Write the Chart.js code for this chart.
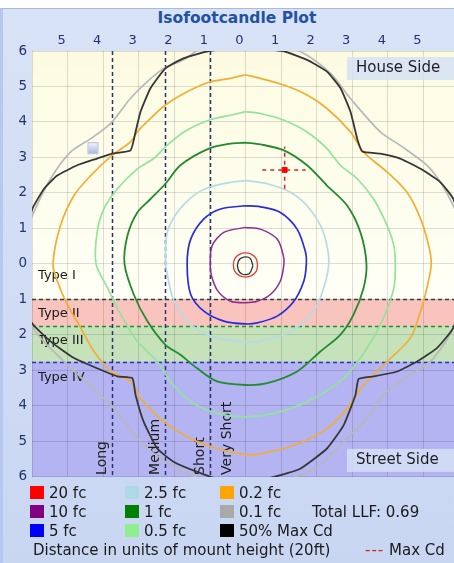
<!DOCTYPE html>
<html>
<head>
<meta charset="utf-8">
<script src="https://cdn.jsdelivr.net/npm/chart.js@4"></script>
<style>
  body { margin: 0; background: #fff; overflow: hidden; width: 454px; height: 563px; position: relative; font-family: "DejaVu Sans", sans-serif; }
  #frame { position: absolute; left: 0; top: 8px; width: 470px; height: 560px; box-sizing: border-box;
           background: linear-gradient(#d8e3f7, #c9d6f2); border-top: 1px solid #a9badb; border-left: 3px solid #b7c8ee; }
  #title { position: absolute; left: 0; width: 474px; top: 9px; text-align: center; font-weight: bold; font-size: 15.5px; color: #2352a3; }
  #chart { position: absolute; left: 0; top: 0; }
  .lg { position: absolute; font-size: 15px; color: #1a1a1a; white-space: nowrap; line-height: 18px; }
  .sw { position: absolute; width: 14px; height: 13px; }
</style>
</head>
<body>
<div id="frame"></div>
<div id="title">Isofootcandle Plot</div>
<canvas id="chart" width="470" height="490"></canvas>
<div id="legend"></div>
<script>
// grid steps in mount heights
const gridSteps = [-6, -5, -4, -3, -2, -1, 0, 1, 2, 3, 4, 5, 6];

// iso lines, [x, y] in mount heights
const fc20 = [[0.34,-0.03],[0.30,0.15],[0.17,0.27],[0,0.31],[-0.17,0.27],[-0.30,0.15],[-0.34,-0.03],[-0.30,-0.21],[-0.17,-0.33],[0,-0.37],[0.17,-0.33],[0.30,-0.21],[0.34,-0.03]];
const fc10 = [[0,1.03],[-0.61,0.89],[-0.94,0.51],[-0.99,0],[-0.96,-0.32],[-0.78,-0.76],[-0.42,-1.05],[0,-1.09],[0.33,-1.05],[0.70,-0.86],[0.98,-0.48],[1.08,0],[1.06,0.25],[0.89,0.70],[0.42,0.98],[0,1.03]];
const fc5 = [[0,1.64],[-0.70,1.55],[-1.17,1.27],[-1.54,0.70],[-1.64,0],[-1.54,-0.86],[-1.17,-1.33],[-0.61,-1.61],[0,-1.69],[0.33,-1.66],[0.89,-1.47],[1.36,-1.05],[1.64,-0.48],[1.71,0],[1.69,0.32],[1.45,0.98],[0.98,1.45],[0.42,1.61],[0,1.64]];
const fc2_5 = [[0,2.35],[-0.42,2.30],[-1.03,2.16],[-1.45,1.93],[-1.92,1.45],[-2.20,0.89],[-2.25,0.13],[-2.20,-0.29],[-2.01,-1.05],[-1.54,-1.71],[-0.80,-2.09],[0,-2.20],[0.42,-2.18],[1.26,-1.90],[1.92,-1.33],[2.20,-0.67],[2.34,0],[2.29,0.51],[2.11,1.08],[1.73,1.64],[1.26,2.02],[0.61,2.26],[0,2.35]];
const fc1 = [[0,3.42],[-0.42,3.39],[-1.03,3.25],[-1.83,2.78],[-2.25,2.26],[-2.67,1.83],[-3.04,1.45],[-3.32,0.79],[-3.40,0],[-3.14,-0.86],[-2.76,-1.61],[-2.25,-2.28],[-1.83,-2.56],[-1.36,-2.94],[-0.80,-3.31],[0,-3.41],[0.61,-3.36],[1.45,-3.03],[2.11,-2.46],[2.67,-1.99],[3.04,-1.42],[3.32,-0.67],[3.40,0],[3.23,0.89],[2.86,1.64],[2.29,2.21],[1.73,2.78],[1.08,3.20],[0.42,3.37],[0,3.42]];
const fc0_5 = [[0,4.29],[-0.42,4.19],[-1.03,4.05],[-1.73,3.72],[-2.25,3.30],[-2.58,2.97],[-3.04,2.68],[-3.60,2.12],[-3.98,1.55],[-4.17,0.89],[-4.20,0],[-3.88,-0.67],[-3.51,-1.42],[-3.04,-2.18],[-2.48,-2.75],[-2.11,-3.31],[-1.54,-3.88],[-0.80,-4.21],[0,-4.31],[0.98,-4.16],[1.92,-3.79],[2.76,-3.22],[3.42,-2.37],[3.88,-1.52],[4.17,-0.67],[4.21,0],[4.17,0.51],[3.98,1.08],[3.60,1.83],[3.14,2.40],[2.67,2.78],[2.29,3.25],[1.73,3.72],[1.08,4.05],[0.42,4.24],[0,4.29]];
const fc0_2 = [[0,5.33],[-0.42,5.23],[-1.03,5.12],[-1.64,4.85],[-2.25,4.48],[-2.67,4.10],[-3.04,3.72],[-3.23,3.44],[-3.75,3.06],[-4.35,2.49],[-4.82,1.93],[-5.20,1.08],[-5.41,0],[-5.29,-0.48],[-5.01,-1.14],[-4.63,-1.80],[-4.26,-2.46],[-3.79,-3.03],[-3.23,-3.31],[-2.95,-3.79],[-2.29,-4.45],[-1.54,-4.92],[-0.80,-5.20],[0,-5.37],[0.42,-5.35],[1.36,-5.11],[2.29,-4.64],[2.86,-4.07],[3.32,-3.41],[3.98,-2.75],[4.63,-2.09],[4.92,-1.33],[5.10,-0.67],[5.22,0],[5.15,0.51],[4.92,1.27],[4.54,2.02],[3.98,2.59],[3.32,3.15],[2.95,3.72],[2.29,4.38],[1.73,4.76],[1.08,5.04],[0.42,5.23],[0,5.33]];
const fc0_1 = [[0,6.4],[-1.2,6.1],[-1.74,5.75],[-2.29,5.51],[-2.76,5.14],[-3.23,4.67],[-3.79,3.96],[-4.35,3.53],[-4.92,3.15],[-5.48,2.40],[-5.99,1.36],[-6.5,0],[-6.0,-1.75],[-5.10,-2.75],[-3.79,-3.97],[-2.95,-5.01],[-2.11,-5.67],[-1.54,-5.95],[0,-6.4],[1.92,-5.78],[2.39,-5.39],[2.95,-4.82],[3.42,-4.35],[3.88,-3.69],[4.35,-3.31],[4.92,-2.94],[5.29,-2.65],[5.84,-1.80],[6.5,0],[5.84,1.64],[5.48,2.30],[5.10,2.78],[4.35,3.34],[3.79,3.72],[2.95,4.66],[2.39,5.37],[1.5,6.0],[0,6.4]];
const maxCd50Inner = [[0.21,-0.05],[0.13,0.16],[-0.05,0.19],[-0.20,0.08],[-0.21,-0.15],[-0.08,-0.29],[0.11,-0.27],[0.21,-0.05]];
const maxCd50 = [[0,6.12],[-1.03,6.0],[-1.73,5.80],[-2.25,5.51],[-2.67,4.95],[-2.95,4.29],[-3.09,3.72],[-3.23,3.20],[-3.75,3.11],[-4.17,2.97],[-4.73,2.78],[-5.29,2.49],[-5.66,2.12],[-5.99,1.55],[-6.4,0],[-6.04,-1.61],[-5.48,-2.18],[-4.82,-2.65],[-4.17,-2.94],[-3.60,-3.17],[-3.18,-3.22],[-3.09,-3.69],[-2.86,-4.45],[-2.48,-5.20],[-2.01,-5.58],[-1.36,-5.86],[-0.80,-6.05],[0,-6.15],[0.80,-6.0],[1.54,-5.77],[2.29,-5.20],[2.76,-4.54],[3.09,-3.69],[3.18,-3.24],[3.60,-3.17],[4.26,-3.03],[4.82,-2.75],[5.38,-2.37],[5.84,-1.80],[6.4,0],[5.84,1.83],[5.48,2.30],[4.92,2.68],[4.35,2.97],[3.79,3.11],[3.28,3.17],[3.14,3.53],[2.95,4.29],[2.67,4.95],[2.29,5.42],[1.73,5.75],[1.08,5.99],[0,6.12]];

// max candela location and its cross
const maxCdPoint = [1.10, 2.65];
const maxCdCrossX = [0.47, 1.69];
const maxCdCrossY = [2.12, 3.30];

// roadway types (street side) and throw classes
const typeNames = ['Type I', 'Type II', 'Type III', 'Type IV'];
const typeLabelY = [-0.33, -1.4, -2.15, -3.2];
const typeEdges = [-1, -1.75, -2.75];
const throwNames = ['Long', 'Medium', 'Short', 'Very Short'];
const throwEdges = [-3.75, -2.25, -1.0, -1.0];

// legend
const levelNames = ['20 fc', '10 fc', '5 fc', '2.5 fc', '1 fc', '0.5 fc', '0.2 fc', '0.1 fc', '50% Max Cd'];
const levelColors = ['#ff0000', '#800080', '#0000ff', '#add8e6', '#008000', '#90ee90', '#ffa500', '#a9a9a9', '#000000'];
const lineColors = ['#e83a3a', '#8e2e8e', '#2a2ae0', '#b4dce8', '#238a2e', '#92e49a', '#f2ae34', '#b8b8b8', '#363636'];
const totalLLF = 0.69;

const pts = arr => arr.map(p => ({x: p[0], y: p[1]}));

function isoLine(data, i, width) {
    return {
        data: pts(data),
        showLine: true,
        borderColor: lineColors[i],
        borderWidth: width,
        pointRadius: 0,
        tension: 0.3,
        fill: false
    };
}

const bands = {
    id: 'bands',
    beforeDraw(chart) {
        const {ctx, chartArea: a, scales: {x, y}} = chart;
        const e = typeEdges.map(v => y.getPixelForValue(v));
        ctx.save();
        const g = ctx.createLinearGradient(0, a.top, 0, e[0]);
        g.addColorStop(0, '#fcfbe1');
        g.addColorStop(1, '#fffff6');
        ctx.fillStyle = g;
        ctx.fillRect(a.left, a.top, a.width, e[0] - a.top);
        ctx.fillStyle = '#f9c4bd';
        ctx.fillRect(a.left, e[0], a.width, e[1] - e[0]);
        ctx.fillStyle = '#c5e2bb';
        ctx.fillRect(a.left, e[1], a.width, e[2] - e[1]);
        ctx.fillStyle = '#b4b4f2';
        ctx.fillRect(a.left, e[2], a.width, a.bottom - e[2]);
        ctx.restore();
    },
    beforeDatasetsDraw(chart) {
        const {ctx, chartArea: a, scales: {x, y}} = chart;
        ctx.save();
        ctx.lineWidth = 1.5;
        ctx.setLineDash([4, 3]);
        const edgeColors = ['#3a3a3a', '#2c8a2c', '#2a3aa8'];
        typeEdges.forEach((v, i) => {
            const py = Math.round(y.getPixelForValue(v)) + 0.5;
            ctx.strokeStyle = edgeColors[i];
            ctx.beginPath();
            ctx.moveTo(a.left, py);
            ctx.lineTo(a.right, py);
            ctx.stroke();
        });
        ctx.strokeStyle = '#26346e';
        [...new Set(throwEdges)].forEach(v => {
            const px = Math.round(x.getPixelForValue(v)) + 0.5;
            ctx.beginPath();
            ctx.moveTo(px, a.top);
            ctx.lineTo(px, a.bottom);
            ctx.stroke();
        });
        ctx.setLineDash([]);
        ctx.fillStyle = '#1a1a1a';
        ctx.font = '13px "DejaVu Sans"';
        ctx.textBaseline = 'middle';
        typeNames.forEach((t, i) => ctx.fillText(t, a.left + 6, y.getPixelForValue(typeLabelY[i])));
        // throw labels, rotated, sitting on the bottom edge
        ctx.font = '14px "DejaVu Sans"';
        ctx.textBaseline = 'alphabetic';
        throwNames.forEach((t, i) => {
            const px = x.getPixelForValue(throwEdges[i]);
            const right = i === throwNames.length - 1;
            ctx.save();
            ctx.translate(right ? px + 21 : px - 6, a.bottom - 2);
            ctx.rotate(-Math.PI / 2);
            ctx.fillText(t, 0, 0);
            ctx.restore();
        });
        // small marker icon
        const ix = x.getPixelForValue(-4.3), iy = y.getPixelForValue(3.26);
        const ig = ctx.createLinearGradient(0, iy - 5, 0, iy + 5);
        ig.addColorStop(0, '#eef2fb');
        ig.addColorStop(1, '#a9b8e4');
        ctx.fillStyle = ig;
        ctx.fillRect(ix - 4, iy - 5, 9, 10);
        ctx.strokeStyle = '#b0bde0';
        ctx.lineWidth = 1;
        ctx.strokeRect(ix - 4.5, iy - 5.5, 10, 11);
        ctx.restore();
    },
    afterDatasetsDraw(chart) {
        const {ctx, chartArea: a} = chart;
        ctx.save();
        ctx.font = '15px "DejaVu Sans"';
        ctx.textBaseline = 'middle';
        const boxes = [['House Side', a.top + 6], ['Street Side', a.bottom - 28]];
        boxes.forEach(([t, top]) => {
            ctx.fillStyle = 'rgba(214,224,244,0.85)';
            ctx.fillRect(347, top, 108, 23);
            ctx.fillStyle = '#1e1e28';
            ctx.fillText(t, 356, top + 11.5);
        });
        ctx.restore();
    }
};

const ctx = document.getElementById('chart').getContext('2d');
new Chart(ctx, {
    type: 'scatter',
    data: {
        datasets: [
            {data: [{x: maxCdPoint[0], y: maxCdPoint[1]}], pointStyle: 'rect', pointRadius: 3.5, backgroundColor: '#ff0000', borderColor: '#ff0000', order: 0},
            {data: [{x: maxCdCrossX[0], y: maxCdPoint[1]}, {x: maxCdCrossX[1], y: maxCdPoint[1]}], showLine: true, pointRadius: 0, borderColor: '#c82828', borderWidth: 1.5, borderDash: [4, 4], order: 1},
            {data: [{x: maxCdPoint[0], y: maxCdCrossY[0]}, {x: maxCdPoint[0], y: maxCdCrossY[1]}], showLine: true, pointRadius: 0, borderColor: '#c82828', borderWidth: 1.5, borderDash: [4, 4], order: 1},
            {...isoLine(maxCd50, 8, 1.8), tension: 0.15, order: 2},
            {...isoLine(maxCd50Inner, 8, 1.3), order: 3},
            {...isoLine(fc20, 0, 1.3), order: 4},
            {...isoLine(fc10, 1, 1.5), order: 5},
            {...isoLine(fc5, 2, 1.7), order: 6},
            {...isoLine(fc2_5, 3, 1.7), order: 7},
            {...isoLine(fc1, 4, 1.8), order: 8},
            {...isoLine(fc0_5, 5, 1.7), order: 9},
            {...isoLine(fc0_2, 6, 1.7), order: 10},
            {...isoLine(fc0_1, 7, 1.7), order: 11}
        ]
    },
    options: {
        responsive: false,
        animation: false,
        devicePixelRatio: 1,
        layout: {padding: {top: 0, right: 11, bottom: 0, left: 0}},
        plugins: {legend: {display: false}, tooltip: {enabled: false}},
        scales: {
            x: {
                type: 'linear', position: 'top', min: -6, max: 6,
                afterBuildTicks: s => { s.ticks = gridSteps.map(v => ({value: v})); },
                afterFit: s => { s.height = 51; },
                grid: {color: 'rgba(0,0,0,0.13)', drawTicks: false},
                border: {display: false},
                ticks: {
                    padding: 3, labelOffset: -6, color: '#24346a', maxRotation: 0,
                    font: {family: 'DejaVu Sans', size: 13},
                    callback: v => Math.abs(v) === 6 ? '' : Math.abs(v)
                }
            },
            y: {
                type: 'linear', min: -6, max: 6,
                afterBuildTicks: s => { s.ticks = gridSteps.map(v => ({value: v})); },
                afterFit: s => { s.width = 32; },
                grid: {color: 'rgba(0,0,0,0.13)', drawTicks: false},
                border: {display: false},
                ticks: {
                    padding: 5, color: '#24346a',
                    font: {family: 'DejaVu Sans', size: 13.5},
                    callback: v => Math.abs(v)
                }
            }
        }
    },
    plugins: [bands]
});

// html legend, three columns
const legend = document.getElementById('legend');
const rowY = [493, 512, 531];
const colX = [30, 125, 220];
levelNames.forEach((name, i) => {
    const c = Math.floor(i / 3), r = i % 3;
    const sw = document.createElement('div');
    sw.className = 'sw';
    sw.style.left = colX[c] + 'px';
    sw.style.top = (rowY[r] - 7) + 'px';
    sw.style.background = levelColors[i];
    legend.appendChild(sw);
    const t = document.createElement('div');
    t.className = 'lg';
    t.style.left = (colX[c] + 19) + 'px';
    t.style.top = (rowY[r] - 9) + 'px';
    t.innerText = name;
    legend.appendChild(t);
});
const llf = document.createElement('div');
llf.className = 'lg';
llf.style.left = '312px';
llf.style.top = (rowY[1] - 9) + 'px';
llf.innerText = 'Total LLF: ' + totalLLF;
legend.appendChild(llf);
const dist = document.createElement('div');
dist.className = 'lg';
dist.style.left = '33px';
dist.style.top = '541px';
dist.innerText = 'Distance in units of mount height (20ft)';
legend.appendChild(dist);
const mx = document.createElement('div');
mx.className = 'lg';
mx.style.left = '365px';
mx.style.top = '541px';
mx.innerHTML = '<span style="color:#c82828;letter-spacing:1px">---</span> Max Cd';
legend.appendChild(mx);
</script>
</body>
</html>
